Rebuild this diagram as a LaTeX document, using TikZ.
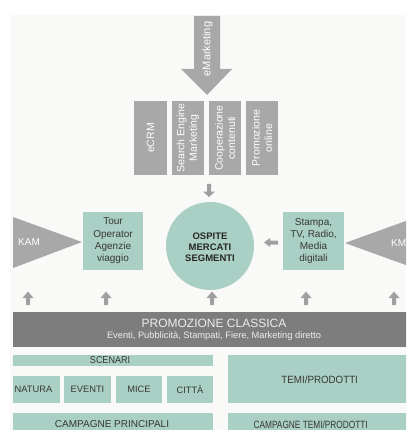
\documentclass[tikz,border=0pt]{standalone}
\usepackage{fontspec}
\setmainfont{Liberation Sans}
\definecolor{panel}{RGB}{249,249,247}
\definecolor{boxgray}{RGB}{168,168,168}
\definecolor{arrgray}{RGB}{160,160,160}
\definecolor{bargray}{RGB}{125,125,125}
\definecolor{teal1}{RGB}{170,207,196}
\definecolor{darktxt}{RGB}{55,55,55}
\tikzset{
  vbox/.style={fill=boxgray, draw=none, rotate=90, minimum width=74pt, minimum height=32.5pt,
    inner sep=0pt, text=white, align=center, font=\fontsize{10.5}{12.5}\selectfont},
  tbox/.style={fill=teal1, draw=none, inner sep=0pt, text=darktxt, align=center},
  ttext/.style={inner sep=0pt, text=darktxt, align=center},
  wtext/.style={inner sep=0pt, text=white, align=center},
  uparr/.pic={\fill[arrgray] (-2,13.5) -- (-2,6.5) -- (-5.5,6.5) -- (0,0) -- (5.5,6.5) -- (2,6.5) -- (2,13.5) -- cycle;},
  downarr/.pic={\fill[arrgray] (-2,0) -- (2,0) -- (2,7.5) -- (6,7.5) -- (0,13) -- (-6,7.5) -- (-2,7.5) -- cycle;},
  leftarr/.pic={\fill[arrgray] (0,0) -- (6,-4.5) -- (6,-2) -- (14,-2) -- (14,2) -- (6,2) -- (6,4.5) -- cycle;}
}
\begin{document}
\begin{tikzpicture}[x=1pt,y=-1pt]
\useasboundingbox (0,0) rectangle (406,430);
\begin{scope}
\clip (0,0) rectangle (406,430);
\fill[white] (0,0) rectangle (406,430);
\fill[panel] (10,15) rectangle (406,430);

% eMarketing arrow
\fill[boxgray] (194,16) -- (220,16) -- (220,69) -- (232,69) -- (207,95) -- (181,69) -- (194,69) -- cycle;
\node[wtext, rotate=90, font=\fontsize{11}{13}\selectfont] (emk) at (207.5,49) {eMarketing};

% vertical boxes
\node[vbox] (ecrm) at (150.5,138) {eCRM};
\node[vbox] (sem) at (188,138) {Search Engine\\Marketing};
\node[vbox] (coop) at (225,138) {Cooperazione\\contenuti};
\node[vbox] (promo) at (262,138) {Promozione\\online};

\pic at (209,184) {downarr};

% KAM / KMM triangles
\fill[boxgray] (13,217) -- (82,242) -- (13,268) -- cycle;
\node[wtext, font=\fontsize{10}{12}\selectfont] (kam) at (29,242.5) {KAM};
\fill[boxgray] (414,218) -- (345,243) -- (414,268) -- cycle;
\node[wtext, anchor=west, font=\fontsize{10}{12}\selectfont] (kmm) at (391,243) {KMM};

% Side boxes
\node[tbox, minimum width=60pt, minimum height=58pt, font=\fontsize{10}{12.3}\selectfont] (tour) at (113,241) {Tour\\Operator\\Agenzie\\viaggio};
\node[tbox, minimum width=61pt, minimum height=58pt, font=\fontsize{10}{12.3}\selectfont] (stampa) at (313.5,241) {Stampa,\\TV, Radio,\\Media\\digitali};

% central circle
\node[circle, fill=teal1, draw=none, minimum size=88pt, inner sep=0pt] (osp) at (210,246) {};
\node[ttext, text=black!85, font=\bfseries\fontsize{9.5}{11}\selectfont] (osptxt) at (210,247) {OSPITE\\MERCATI\\SEGMENTI};

\pic at (264,242.5) {leftarr};

% up arrows
\foreach \xx in {28,106,212,306,394} {\pic at (\xx,291.5) {uparr};}

% Promozione classica bar
\node[fill=bargray, draw=none, inner sep=0pt, minimum width=400pt, minimum height=35pt, anchor=north west] (bar) at (13,312) {};
\node[inner sep=0pt, text=white!93!black, font=\fontsize{12}{14}\selectfont] (pc) at (214,323.5) {PROMOZIONE CLASSICA};
\node[inner sep=0pt, text=white!93!black, font=\fontsize{9.3}{11}\selectfont] (pcsub) at (214,336) {Eventi, Pubblicità, Stampati, Fiere, Marketing diretto};

% Scenari
\node[tbox, minimum width=200pt, minimum height=11pt, anchor=north west] (scen) at (13,355) {};
\node[ttext, font=\fontsize{10}{12}\selectfont] (scentxt) at (110,360.5) {\scalebox{0.9}[1]{SCENARI}};
\node[tbox, minimum width=47pt, minimum height=27pt, font=\fontsize{9.3}{11}\selectfont] (natura) at (36.5,389.5) {\hspace{-6pt}NATURA};
\node[tbox, minimum width=47pt, minimum height=27pt, font=\fontsize{9.3}{11}\selectfont] (eventi) at (87.5,389.5) {EVENTI};
\node[tbox, minimum width=46pt, minimum height=27pt, font=\fontsize{9.3}{11}\selectfont] (mice) at (139,389.5) {MICE};
\node[tbox, minimum width=46pt, minimum height=27pt, font=\fontsize{9.3}{11}\selectfont] (citta) at (190,389.5) {CITTÀ};

\node[tbox, minimum width=190pt, minimum height=48pt, anchor=north west] (temi) at (228,355) {};
\node[ttext, font=\fontsize{10.5}{12}\selectfont] (temitxt) at (319.7,379.5) {\scalebox{0.93}[1]{TEMI/PRODOTTI}};

\node[tbox, minimum width=200pt, minimum height=25pt, anchor=north west] (campp) at (13,413) {};
\node[ttext, font=\fontsize{10}{12}\selectfont] (camptxt) at (112,424.5) {CAMPAGNE PRINCIPALI};
\node[tbox, minimum width=190pt, minimum height=25pt, anchor=north west] (campt) at (228,413) {};
\node[ttext, font=\fontsize{10.5}{12}\selectfont] (camtxt) at (310.7,424.5) {\scalebox{0.79}[1]{CAMPAGNE TEMI/PRODOTTI}};
\end{scope}
\end{tikzpicture}
\end{document}
